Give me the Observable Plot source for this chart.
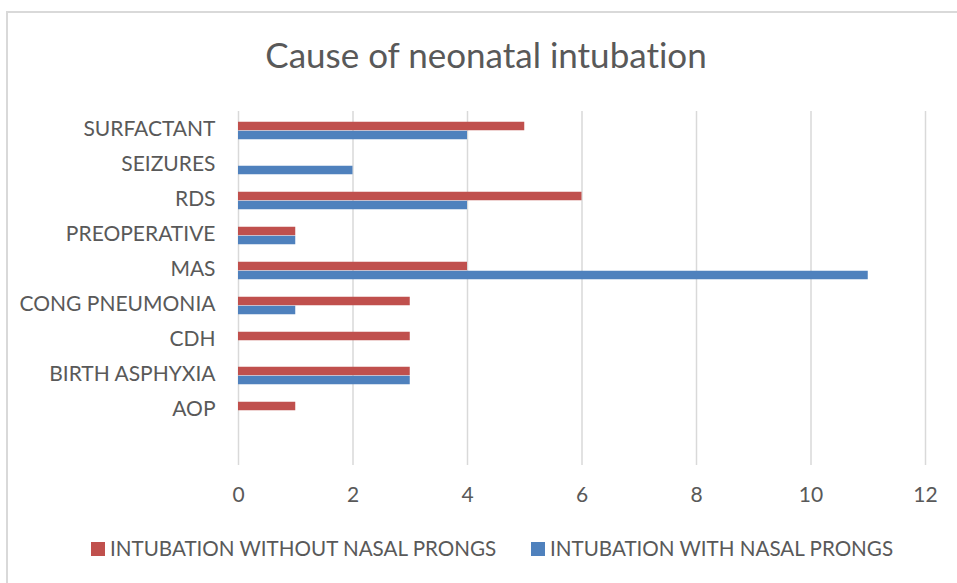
<!DOCTYPE html>
<html>
<head>
<meta charset="utf-8">
<script src="https://cdn.jsdelivr.net/npm/d3@7"></script>
<script src="https://cdn.jsdelivr.net/npm/@observablehq/plot@0.6"></script>
<style>
  body { margin: 0; background: #fff; }
  #wrap { position: relative; width: 957px; height: 583px; overflow: hidden; background: #fff; font-family: Lato, "Open Sans", sans-serif; color: #595959; font-variant-ligatures: none; }
  #frame { position: absolute; left: 6px; top: 11px; width: 1000px; height: 1000px; border: 2px solid #d9d9d9; }
  #title { position: absolute; left: 0; width: 972px; top: 37px; text-align: center; font-size: 35px; line-height: 35px; white-space: nowrap; }
  #chart { position: absolute; left: 0; top: 0; }
  .leg { position: absolute; top: 538px; font-size: 20.6px; line-height: 21px; white-space: nowrap; }
  .sw { position: absolute; top: 542px; width: 14px; height: 14px; }
</style>
</head>
<body>
<div id="wrap">
  <div id="frame"></div>
  <div id="title">Cause of neonatal intubation</div>
  <div id="chart"></div>
  <div class="sw" id="sw0"></div><div class="leg" id="lg0"></div>
  <div class="sw" id="sw1"></div><div class="leg" id="lg1"></div>
</div>
<script>
const categories = ["SURFACTANT", "SEIZURES", "RDS", "PREOPERATIVE", "MAS", "CONG PNEUMONIA", "CDH", "BIRTH ASPHYXIA", "AOP", " "];
const seriesNames = ["INTUBATION WITHOUT NASAL PRONGS", "INTUBATION WITH NASAL PRONGS"];
const withoutProngs = [5, 0, 6, 1, 4, 3, 3, 3, 1, null];
const withProngs = [4, 2, 4, 1, 11, 1, 0, 3, 0, null];
const xTicks = [0, 2, 4, 6, 8, 10, 12];
const colors = ["#C0504D", "#4F81BD"];

const rowsA = categories.map((c, i) => ({cat: c, v: withoutProngs[i]})).filter(d => d.v != null && d.v > 0);
const rowsB = categories.map((c, i) => ({cat: c, v: withProngs[i]})).filter(d => d.v != null && d.v > 0);

const inset = 13.25;
const chart = Plot.plot({
  width: 957,
  height: 520,
  marginLeft: 238,
  marginRight: 32,
  marginTop: 111,
  marginBottom: 55,
  style: {fontFamily: "Lato, 'Open Sans', sans-serif", fontSize: "21px", color: "#595959", background: "transparent", overflow: "visible", fontVariantLigatures: "none"},
  x: {domain: [0, 12], label: null},
  y: {domain: categories, padding: 0, label: null},
  marks: [
    Plot.ruleX(xTicks, {stroke: "#D9D9D9", strokeWidth: 1.5}),
    Plot.barX(rowsA, {x: "v", y: "cat", fill: colors[0], insetTop: inset, insetBottom: inset, dy: -4.5}),
    Plot.barX(rowsB, {x: "v", y: "cat", fill: colors[1], insetTop: inset, insetBottom: inset, dy: 4.5}),
    Plot.axisX({ticks: xTicks, tickSize: 0, tickPadding: 22, tickFormat: d => String(d), label: null}),
    Plot.axisY({tickSize: 0, tickPadding: 23, dy: -2, label: null})
  ]
});
document.getElementById("chart").appendChild(chart);

const legX = [[91, 110], [531, 550]];
seriesNames.forEach((n, i) => {
  const sw = document.getElementById("sw" + i);
  sw.style.left = legX[i][0] + "px";
  sw.style.background = colors[i];
  const lg = document.getElementById("lg" + i);
  lg.style.left = legX[i][1] + "px";
  lg.textContent = n;
});
</script>
</body>
</html>
